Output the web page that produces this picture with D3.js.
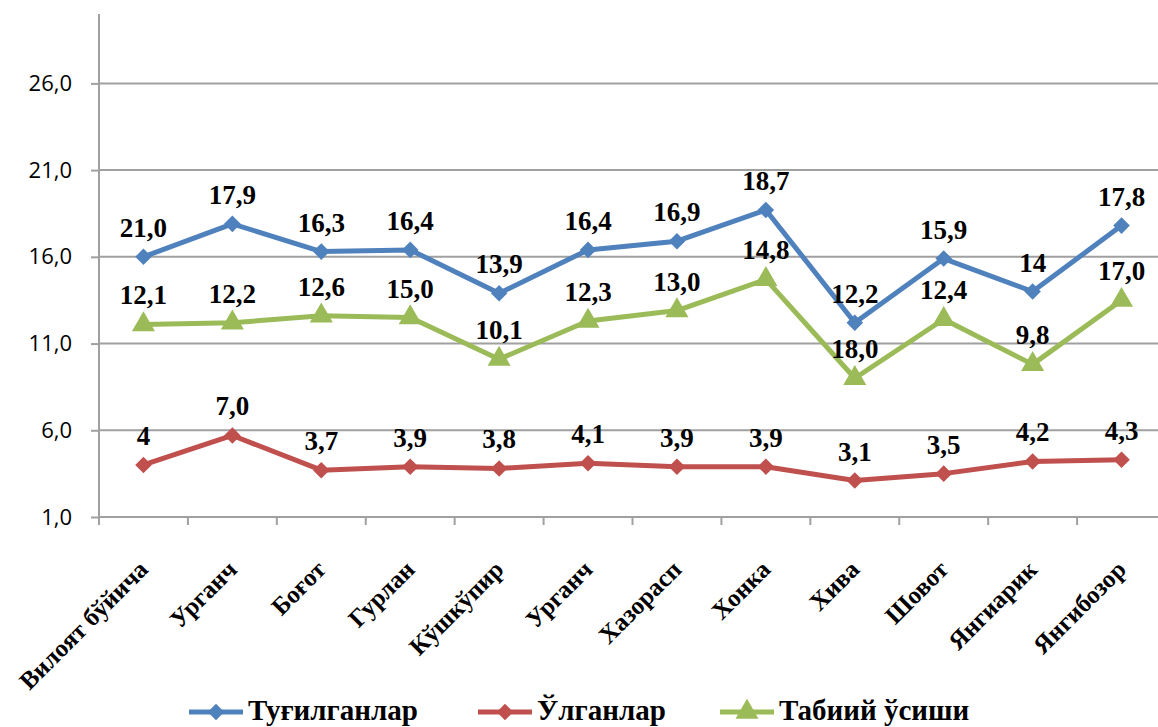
<!DOCTYPE html>
<html>
<head>
<meta charset="utf-8">
<script src="https://cdn.jsdelivr.net/npm/d3@7"></script>
<style>
body { margin:0; background:#fff; }
.serif { font-family: "Liberation Serif", "DejaVu Serif", "Times New Roman", serif; font-weight: bold; }
</style>
</head>
<body>
<div id="chart"></div>
<script>
let categories = ["Вилоят бўйича", "Урганч", "Боғот", "Гурлан", "Кўшкўпир", "Урганч",
                  "Хазорасп", "Хонка", "Хива", "Шовот", "Янгиарик", "Янгибозор"];

let seriesNames = ["Туғилганлар", "Ўлганлар", "Табиий ўсиши"];

// plotted values
let births = [16.0, 17.9, 16.3, 16.4, 13.9, 16.4, 16.9, 18.7, 12.2, 15.9, 14.0, 17.8];
let deaths = [4.0, 5.7, 3.7, 3.9, 3.8, 4.1, 3.9, 3.9, 3.1, 3.5, 4.2, 4.3];
let growth = [12.1, 12.2, 12.6, 12.5, 10.1, 12.3, 12.9, 14.7, 9.0, 12.4, 9.8, 13.5];

// data label texts as printed
let birthsLabels = ["21,0", "17,9", "16,3", "16,4", "13,9", "16,4", "16,9", "18,7", "12,2", "15,9", "14", "17,8"];
let deathsLabels = ["4", "7,0", "3,7", "3,9", "3,8", "4,1", "3,9", "3,9", "3,1", "3,5", "4,2", "4,3"];
let growthLabels = ["12,1", "12,2", "12,6", "15,0", "10,1", "12,3", "13,0", "14,8", "18,0", "12,4", "9,8", "17,0"];

let yTicks = [1, 6, 11, 16, 21, 26];

let width = 1158, height = 727;
let margin = {top: 14, left: 99, right: -8, bottom: 210};

let series = [
    {name: seriesNames[0], values: births, labels: birthsLabels, color: "#4F81BD", marker: "diamond"},
    {name: seriesNames[1], values: deaths, labels: deathsLabels, color: "#C0504D", marker: "diamond"},
    {name: seriesNames[2], values: growth, labels: growthLabels, color: "#9BBB59", marker: "triangle"}
];

let svg = d3.select("#chart").append("svg")
    .attr("width", width)
    .attr("height", height);

let xScale = d3.scaleBand()
    .domain(d3.range(categories.length))
    .range([margin.left, width - margin.right]);

let yScale = d3.scaleLinear()
    .domain([1, 30])
    .range([517, margin.top]);

let gridColor = "#a0a0a0";

// grid lines
svg.append("g").selectAll("line")
    .data(yTicks.slice(1))
    .enter().append("line")
    .attr("x1", margin.left)
    .attr("x2", width)
    .attr("y1", d => yScale(d))
    .attr("y2", d => yScale(d))
    .attr("stroke", gridColor)
    .attr("stroke-width", 2);

// y axis
let yAxis = svg.append("g")
    .attr("transform", "translate(" + margin.left + ",0)")
    .call(d3.axisLeft(yScale).tickValues(yTicks).tickSize(8).tickPadding(19)
        .tickFormat(d => d3.format(".1f")(d).replace(".", ",")));
yAxis.select(".domain").attr("stroke", gridColor).attr("stroke-width", 2)
    .attr("d", "M0," + yScale(30) + "V" + yScale(1));
yAxis.selectAll(".tick line").attr("stroke", gridColor).attr("stroke-width", 2);
yAxis.selectAll(".tick text")
    .style("font-family", "'Open Sans', 'Liberation Sans', sans-serif")
    .style("font-size", "22px")
    .attr("fill", "#000");

// x axis
let xAxis = svg.append("g")
    .attr("transform", "translate(0," + yScale(1) + ")");
xAxis.append("line")
    .attr("x1", margin.left).attr("x2", width)
    .attr("stroke", gridColor).attr("stroke-width", 2);
xAxis.selectAll(".xtick")
    .data(d3.range(categories.length))
    .enter().append("line")
    .attr("x1", d => xScale(d)).attr("x2", d => xScale(d))
    .attr("y1", 0).attr("y2", 8)
    .attr("stroke", gridColor).attr("stroke-width", 2);

xAxis.selectAll(".xlabel")
    .data(categories)
    .enter().append("text")
    .attr("class", "serif")
    .attr("transform", (d, i) => "translate(" + (xScale(i) + xScale.bandwidth() / 2 + 6) + "," + 54 + ") rotate(-45)")
    .attr("text-anchor", "end")
    .style("font-size", "25px")
    .attr("fill", "#000")
    .text(d => d);

let cx = i => xScale(i) + xScale.bandwidth() / 2;

function markerPath(type) {
    if (type == "triangle") return d3.symbol().type(d3.symbolTriangle).size(230)();
    return d3.symbol().type(d3.symbolDiamond2).size(175)();
}

let line = d3.line()
    .x((d, i) => cx(i))
    .y(d => yScale(d));

for (let s of series) {
    let g = svg.append("g");
    g.append("path")
        .attr("d", line(s.values))
        .attr("fill", "none")
        .attr("stroke", s.color)
        .attr("stroke-width", 5)
        .attr("stroke-linejoin", "round");
    g.selectAll(".marker")
        .data(s.values)
        .enter().append("path")
        .attr("transform", (d, i) => "translate(" + cx(i) + "," + yScale(d) + ")")
        .attr("d", markerPath(s.marker))
        .attr("fill", s.color);
}

// data labels
for (let s of series) {
    svg.append("g").selectAll("text")
        .data(s.values)
        .enter().append("text")
        .attr("class", "serif")
        .attr("x", (d, i) => cx(i))
        .attr("y", d => yScale(d) - 20)
        .attr("text-anchor", "middle")
        .style("font-size", "27px")
        .attr("fill", "#000")
        .text((d, i) => s.labels[i]);
}

// legend
let legendX = [189, 478, 720];
let legend = svg.append("g").attr("transform", "translate(0,712)");
series.forEach(function(s, i) {
    let lg = legend.append("g").attr("transform", "translate(" + legendX[i] + ",0)");
    lg.append("line")
        .attr("x1", 0).attr("x2", 54)
        .attr("stroke", s.color).attr("stroke-width", 5);
    lg.append("path")
        .attr("transform", "translate(27,0)")
        .attr("d", markerPath(s.marker))
        .attr("fill", s.color);
    lg.append("text")
        .attr("class", "serif")
        .attr("x", 59)
        .attr("y", 8)
        .style("font-size", "29px")
        .attr("fill", "#000")
        .text(s.name);
});
</script>
</body>
</html>
